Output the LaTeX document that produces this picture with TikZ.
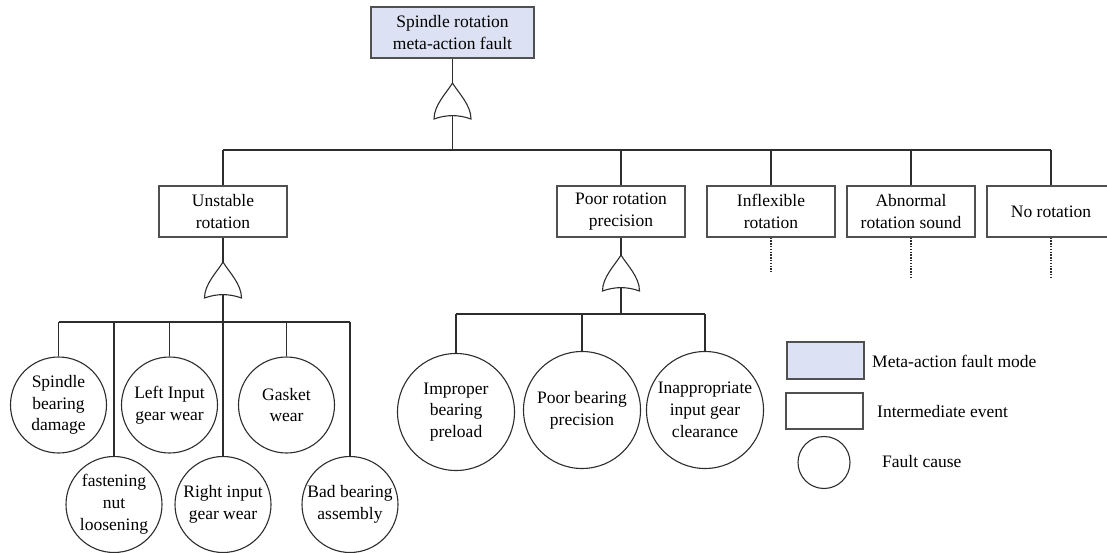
\documentclass[tikz,border=0pt]{standalone}
\usepackage{fontspec}
\setmainfont{Liberation Serif}
\definecolor{modefill}{RGB}{220,226,243}
\definecolor{inkline}{RGB}{45,45,45}
\definecolor{boxline}{RGB}{80,80,80}
\tikzset{
  txt/.style={font=\fontsize{17.5}{21.8}\selectfont, text=black, align=center},
  link/.style={draw=inkline, line width=1.1pt},
  modebox/.style={txt, draw=boxline, line width=1.5pt, fill=modefill,
    minimum width=163pt, minimum height=51pt, inner sep=0pt},
  eventbox/.style={txt, draw=boxline, line width=1.3pt, fill=white,
    minimum width=128pt, minimum height=51pt, inner sep=0pt},
  causesmall/.style={txt, draw=inkline, line width=1.1pt, circle, fill=white,
    minimum size=96pt, inner sep=0pt},
  causebig/.style={txt, draw=inkline, line width=1.1pt, circle, fill=white,
    minimum size=117pt, inner sep=0pt},
  pending/.style={draw=inkline, line width=1.1pt, dash pattern=on 1.4pt off 1.4pt},
  orgate/.pic={
    \draw[draw=inkline, line width=1.1pt, fill=white]
      (-18.5,36) .. controls (-18.5,22) and (-6,10) .. (0,0)
      .. controls (6,10) and (18.5,22) .. (18.5,36)
      .. controls (6,31.5) and (-6,31.5) .. (-18.5,36) -- cycle;
    \coordinate (-apex) at (0,0);
    \coordinate (-base) at (0,33);
  }
}
\begin{document}
\begin{tikzpicture}[x=1pt, y=-1pt]
\useasboundingbox (0,0) rectangle (1107,553);

% top event
\node[modebox] (top) at (452.5,32.5) {Spindle rotation\\meta-action fault};
\pic (g0) at (452.5,83) {orgate};
\draw[link] (top.south) -- (g0-apex);
\coordinate (bus0) at (452.5,150);
\draw[link] (g0-base) -- (bus0);

% intermediate events
\node[eventbox] (unstable) at (223,211.5) {Unstable\\rotation};
\node[eventbox] (precision) at (621,211.5) {Poor rotation\\precision};
\node[eventbox] (inflex) at (771,211.5) {Inflexible\\rotation};
\node[eventbox] (sound) at (911,211.5) {Abnormal\\rotation sound};
\node[eventbox] (norot) at (1051,211.5) {No rotation};

\draw[link] (unstable.north |- bus0) -- (norot.north |- bus0);
\foreach \n in {unstable,precision,inflex,sound,norot}
  \draw[link] (\n.north) -- (\n.north |- bus0);

% undeveloped branches
\coordinate (d1) at (771,272);
\coordinate (d2) at (911,277);
\coordinate (d3) at (1051,277);
\draw[pending] (inflex.south) -- (d1);
\draw[pending] (sound.south) -- (d2);
\draw[pending] (norot.south) -- (d3);

% causes of unstable rotation
\pic (g1) at (223,262) {orgate};
\draw[link] (unstable.south) -- (g1-apex);
\coordinate (bus1) at (223,322);
\draw[link] (g1-base) -- (bus1);

\node[causesmall] (c1) at (58.5,405) {Spindle\\bearing\\damage};
\node[causesmall] (c2) at (114,504.5) {fastening\\nut\\loosening};
\node[causesmall] (c3) at (169.5,405) {Left Input\\gear wear};
\node[causesmall] (c4) at (223,504.5) {Right input\\gear wear};
\node[causesmall] (c5) at (286.5,405) {Gasket\\wear};
\node[causesmall] (c6) at (350,504.5) {Bad bearing\\assembly};

\draw[link] (c1.north |- bus1) -- (c6.north |- bus1);
\foreach \n in {c1,c2,c3,c4,c5,c6}
  \draw[link] (\n.north) -- (\n.north |- bus1);

% causes of poor rotation precision
\pic (g2) at (621,255) {orgate};
\draw[link] (precision.south) -- (g2-apex);
\coordinate (bus2) at (621,314);
\draw[link] (g2-base) -- (bus2);

\node[causebig] (c7) at (456,412) {Improper\\bearing\\preload};
\node[causebig] (c8) at (582,410) {Poor bearing\\precision};
\node[causebig] (c9) at (705,410) {Inappropriate\\input gear\\clearance};

\draw[link] (c7.north |- bus2) -- (c9.north |- bus2);
\foreach \n in {c7,c8,c9}
  \draw[link] (\n.north) -- (\n.north |- bus2);

% legend
\node[modebox, minimum width=77pt, minimum height=37pt] (keymode) at (825.5,360.5) {};
\node[eventbox, minimum width=77pt, minimum height=36pt] (keyevent) at (824.5,411) {};
\node[causesmall, minimum size=52pt] (keycause) at (824,462.5) {};
\node[txt, anchor=west, inner sep=0pt] (keymodetxt) at (872,361) {Meta-action fault mode};
\node[txt, anchor=west, inner sep=0pt] (keyeventtxt) at (877,412) {Intermediate event};
\node[txt, anchor=west, inner sep=0pt] (keycausetxt) at (882,462) {Fault cause};
\end{tikzpicture}
\end{document}
